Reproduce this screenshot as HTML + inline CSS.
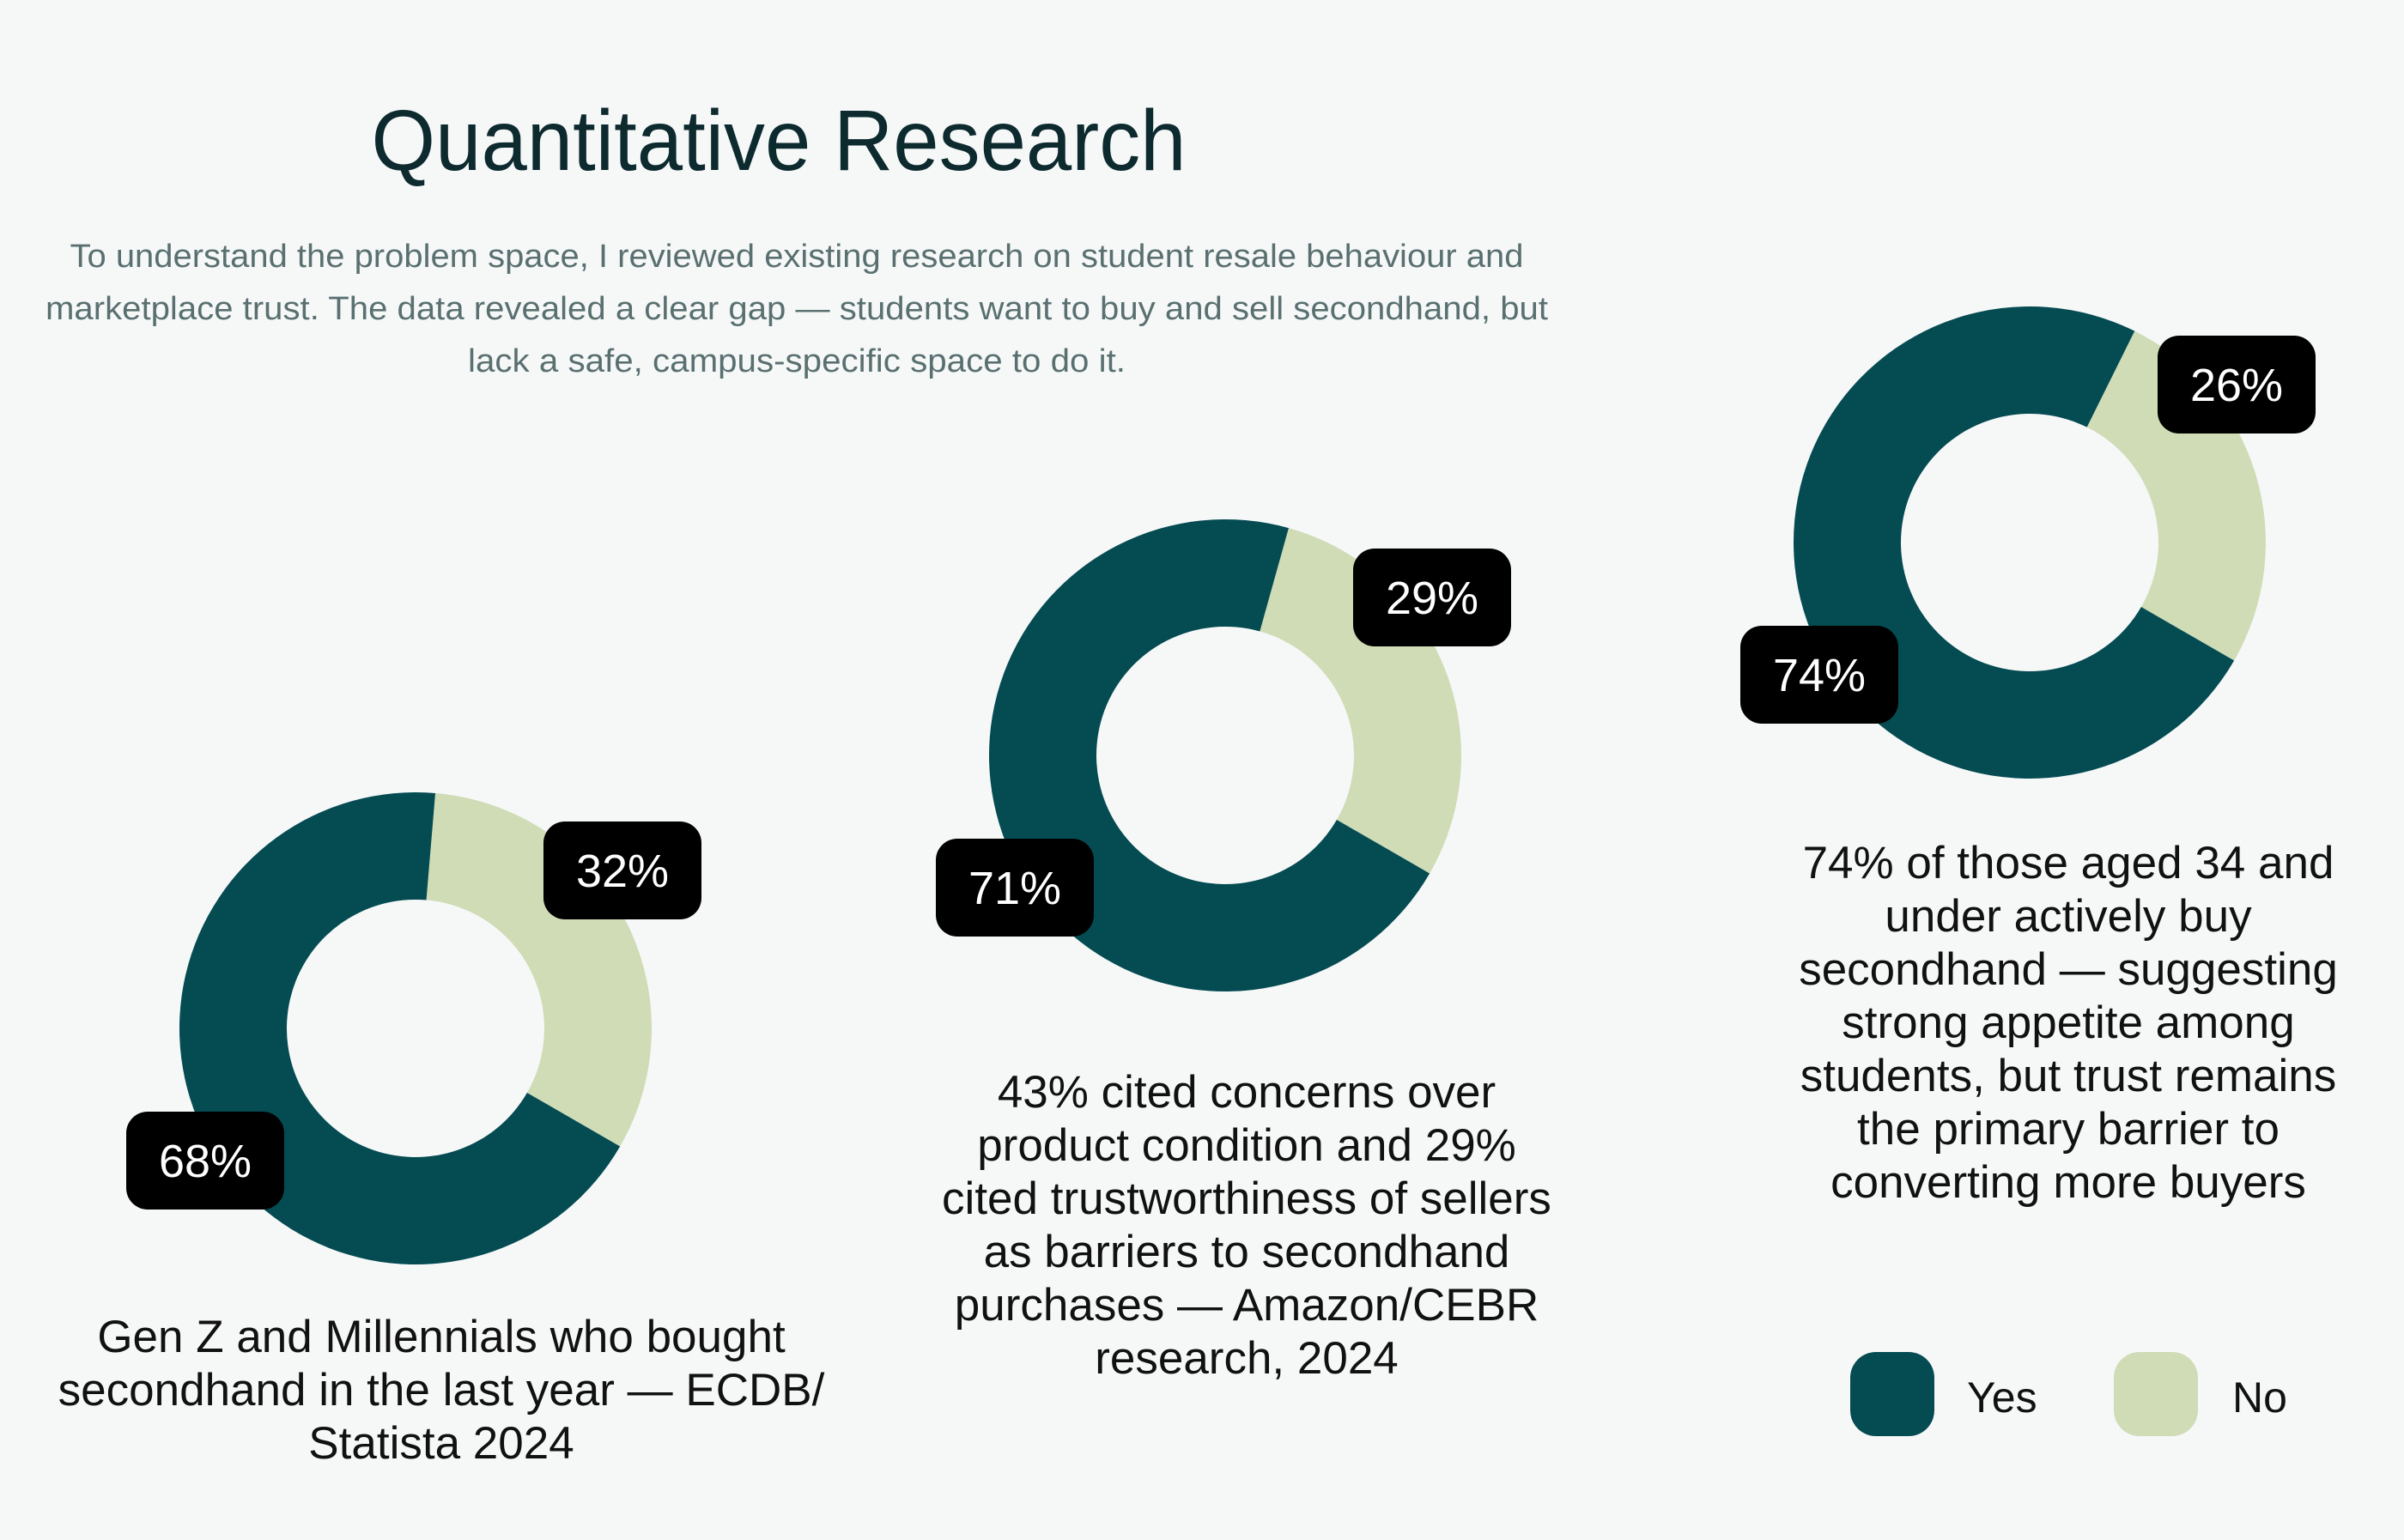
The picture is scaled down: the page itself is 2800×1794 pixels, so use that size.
<!DOCTYPE html>
<html><head><meta charset="utf-8"><style>
html,body{margin:0;padding:0;background:#f6f8f8;}
svg{display:block;font-family:"Liberation Sans",sans-serif;}
</style></head><body>
<svg id="chart" width="2800" height="1794" viewBox="0 0 2800 1794" xmlns="http://www.w3.org/2000/svg">
<rect width="2800" height="1794" fill="#f6f8f8"/>
<text x="907" y="198" text-anchor="middle" font-size="100" fill="#0d2a2e" textLength="949" lengthAdjust="spacingAndGlyphs">Quantitative Research</text>
<g fill="#5a7070" font-size="38" text-anchor="middle">
<text x="928" y="311" textLength="1693" lengthAdjust="spacingAndGlyphs">To understand the problem space, I reviewed existing research on student resale behaviour and</text>
<text x="928" y="372" textLength="1750" lengthAdjust="spacingAndGlyphs">marketplace trust. The data revealed a clear gap — students want to buy and sell secondhand, but</text>
<text x="928" y="433" textLength="766" lengthAdjust="spacingAndGlyphs">lack a safe, campus-specific space to do it.</text>
</g>
<g id="donuts"></g>
<g id="captions" fill="#111" font-size="53" text-anchor="middle"></g>
<g>
<rect x="2155" y="1575" width="98" height="98" rx="30" fill="#054b52"/>
<text x="2291" y="1645" font-size="50" fill="#111">Yes</text>
<rect x="2462" y="1575" width="98" height="98" rx="30" fill="#cfdcb6"/>
<text x="2600" y="1645" font-size="50" fill="#111">No</text>
</g>
</svg>
<script>
const chartNames = ["gen-z-millennials", "amazon-cebr", "aged-34-under"];
const yesValues = [68, 71, 74];
const noValues = [32, 29, 26];
const captionLines = [
 ["Gen Z and Millennials who bought","secondhand in the last year — ECDB/","Statista 2024"],
 ["43% cited concerns over","product condition and 29%","cited trustworthiness of sellers","as barriers to secondhand","purchases — Amazon/CEBR","research, 2024"],
 ["74% of those aged 34 and","under actively buy","secondhand — suggesting","strong appetite among","students, but trust remains","the primary barrier to","converting more buyers"]
];
// layout (not data)
const centers = [[484,1198],[1427,880],[2364,632]];
const captionPos = [[514,1575],[1452,1290],[2409,1023]];
const R = 275, r = 150, NS = "http://www.w3.org/2000/svg";
const g = document.getElementById('donuts');
const cg = document.getElementById('captions');
function pt(cx, cy, rad, deg){const a=(deg-90)*Math.PI/180;return [cx+rad*Math.cos(a), cy+rad*Math.sin(a)];}
function arc(cx,cy,a0,a1){
 const large=(a1-a0)>180?1:0;
 const p0=pt(cx,cy,R,a0),p1=pt(cx,cy,R,a1),q1=pt(cx,cy,r,a1),q0=pt(cx,cy,r,a0);
 return `M${p0[0]},${p0[1]}A${R},${R} 0 ${large} 1 ${p1[0]},${p1[1]}L${q1[0]},${q1[1]}A${r},${r} 0 ${large} 0 ${q0[0]},${q0[1]}Z`;
}
function label(x,y,txt,name){
 const b=document.createElementNS(NS,'g');
 
 
 const rc=document.createElementNS(NS,'rect');
 rc.setAttribute('x',x-92);rc.setAttribute('y',y-57);rc.setAttribute('width',184);rc.setAttribute('height',114);rc.setAttribute('rx',25);rc.setAttribute('fill','#000');
 const t=document.createElementNS(NS,'text');
 t.setAttribute('x',x);t.setAttribute('y',y+19);t.setAttribute('text-anchor','middle');t.setAttribute('font-size',54);t.setAttribute('fill','#fff');
 t.textContent=txt;b.appendChild(rc);b.appendChild(t);g.appendChild(b);
}
chartNames.forEach((n,i)=>{
 const [cx,cy]=centers[i];
 const total=yesValues[i]+noValues[i];
 const end=120, start=end-noValues[i]/total*360;
 const no=document.createElementNS(NS,'path');
 no.setAttribute('d',arc(cx,cy,start,end));no.setAttribute('fill','#cfdcb6');
 
 
 g.appendChild(no);
 const yes=document.createElementNS(NS,'path');
 yes.setAttribute('d',arc(cx,cy,end,start+360));yes.setAttribute('fill','#054b52');
 
 
 g.appendChild(yes);
 label(cx+241,cy-184,noValues[i]+'%',n+'-no-label');
 label(cx-245,cy+154,yesValues[i]+'%',n+'-yes-label');
 const [tx,ty]=captionPos[i];
 captionLines[i].forEach((line,j)=>{
  const t=document.createElementNS(NS,'text');
  t.setAttribute('x',tx);t.setAttribute('y',ty+j*62);
  
  
  t.textContent=line;cg.appendChild(t);
 });
});
</script>
</body></html>
